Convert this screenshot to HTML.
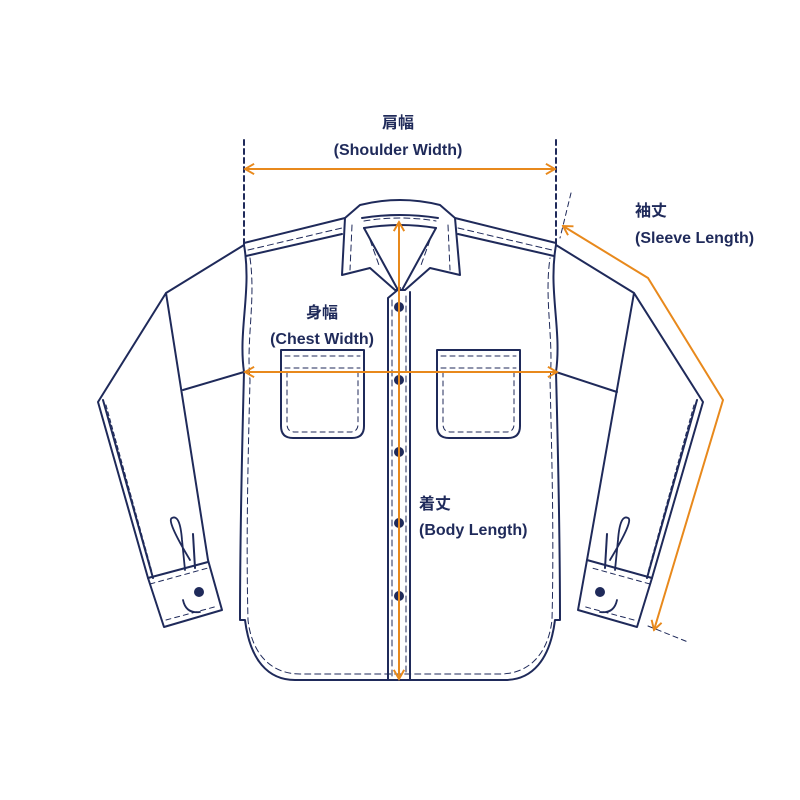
<!DOCTYPE html>
<html><head><meta charset="utf-8"><style>
html,body{margin:0;padding:0;background:#fff}
svg{display:block}
text{font-family:"Liberation Sans","Noto Sans CJK JP",sans-serif;font-weight:bold;fill:#1f2a5a}
</style></head><body>
<svg width="800" height="800" viewBox="0 0 800 800" xmlns="http://www.w3.org/2000/svg">
<defs>
<marker id="ah" viewBox="0 0 10 10" refX="9" refY="5" markerWidth="13" markerHeight="13" orient="auto-start-reverse" markerUnits="userSpaceOnUse">
<path d="M2,1 L9,5 L2,9" fill="none" stroke="#e8891c" stroke-width="1.5"/>
</marker>
</defs>
<g fill="none" stroke="#1f2a5a" stroke-width="2" stroke-linejoin="round" stroke-linecap="round">
<path d="M244,245 C252,290 238,330 244,372 C242,450 240,540 240,620 L245,620 C250,660 268,680 295,680 L505,680 C532,680 550,660 555,620 L560,620 C560,540 558,450 556,372 C562,330 548,290 556,245"/>
<path d="M250,258 C256,300 246,340 250,380 C248,460 246,540 248,620 C252,655 272,674 300,674 L500,674 C528,674 548,655 552,620 C554,540 552,460 550,380 C554,340 544,300 550,258" stroke-width="1" stroke-dasharray="6 4"/>
<path d="M244,243 L345,218 M455,218 L556,243"/>
<path d="M246,256 L342,234 M458,234 L554,256"/>
<path d="M248,250 L342,228 M458,228 L552,250" stroke-width="1" stroke-dasharray="6 4"/>
<path d="M360,205 Q400,195 440,205 L455,218 L460,275 L430,268 L405,290 L395,290 L370,268 L342,275 L345,218 Z"/>
<path d="M362,218 Q400,212 438,218 M364,228 Q400,222 436,228"/>
<path d="M364,221 Q400,215 436,221" stroke-width="1" stroke-dasharray="6 4"/>
<path d="M364,228 L398,290 M436,228 L402,290"/>
<path d="M352,225 L350,270 M448,225 L450,270 M370,240 L380,268 M430,240 L420,268" stroke-width="1" stroke-dasharray="6 4"/>
<path d="M388,298 L388,680 M410,292 L410,680 M388,298 L400,288"/>
<path d="M392,300 L392,676 M406,296 L406,676" stroke-width="1" stroke-dasharray="6 4"/>
<path d="M281,350 L364,350 L364,426 Q364,438 352,438 L293,438 Q281,438 281,426 Z"/>
<path d="M437,350 L520,350 L520,426 Q520,438 508,438 L449,438 Q437,438 437,426 Z"/>
<g stroke-width="1" stroke-dasharray="5 4">
<path d="M285,356 L360,356 M285,368 L360,368 M287,372 L287,424 Q287,432 295,432 L350,432 Q358,432 358,424 L358,372"/>
<path d="M441,356 L516,356 M441,368 L516,368 M443,372 L443,424 Q443,432 451,432 L506,432 Q514,432 514,424 L514,372"/>
</g>
<path d="M244,245 L166,293 L98,402 L148,578 L164,627 L222,610 L208,560 L166,293"/>
<path d="M103,400 L153,578"/>
<path d="M148,578 L208,562"/>
<path d="M183,390 L244,372"/>
<path d="M106,405 L152,572" stroke-width="1" stroke-dasharray="4 3"/>
<path d="M150,584 L208,568 M166,620 L218,606" stroke-width="1" stroke-dasharray="5 4"/>
<path d="M183,600 Q186,614 200,612 M190,560 Q166,520 172,518 Q180,514 182,540 L185,570" stroke-width="1.8"/>
<path d="M193,534 L195,568"/>
<path d="M556,245 L634,293 L703,402 L652,578 L637,627 L578,610 L587,560 L634,293"/>
<path d="M697,400 L647,578"/>
<path d="M652,578 L587,560"/>
<path d="M617,392 L556,372"/>
<path d="M694,405 L648,572" stroke-width="1" stroke-dasharray="4 3"/>
<path d="M650,584 L592,568 M634,620 L582,606" stroke-width="1" stroke-dasharray="5 4"/>
<path d="M617,600 Q614,614 600,612 M610,560 Q634,520 628,518 Q620,514 618,540 L615,570" stroke-width="1.8"/>
<path d="M607,534 L605,568"/>
<path d="M244,140 L244,245 M556,140 L556,245" stroke-dasharray="5 4"/>
<path d="M571,193 L560,238 M648,626 L688,642" stroke-width="1" stroke-dasharray="5 4"/>
</g>
<g fill="#1f2a5a">
<circle cx="399" cy="307" r="5"/><circle cx="399" cy="380" r="5"/><circle cx="399" cy="452" r="5"/><circle cx="399" cy="523" r="5"/><circle cx="399" cy="596" r="5"/>
<circle cx="199" cy="592" r="5"/><circle cx="600" cy="592" r="5"/>
</g>
<g fill="none" stroke="#e8891c" stroke-width="2">
<path d="M245,169 L555,169" marker-start="url(#ah)" marker-end="url(#ah)"/>
<path d="M245,372 L557,372" marker-start="url(#ah)" marker-end="url(#ah)"/>
<path d="M399,222 L399,679" marker-start="url(#ah)" marker-end="url(#ah)"/>
<path d="M563,226 L648,278 L723,400 L654,630" marker-start="url(#ah)" marker-end="url(#ah)"/>
</g>
<g font-size="16">
<text x="398" y="128" text-anchor="middle">肩幅</text>
<text x="398" y="155" text-anchor="middle">(Shoulder Width)</text>
<text x="322" y="318" text-anchor="middle">身幅</text>
<text x="322" y="344" text-anchor="middle">(Chest Width)</text>
<text x="419" y="509">着丈</text>
<text x="419" y="535">(Body Length)</text>
<text x="635" y="216">袖丈</text>
<text x="635" y="243">(Sleeve Length)</text>
</g>
</svg>
</body></html>
